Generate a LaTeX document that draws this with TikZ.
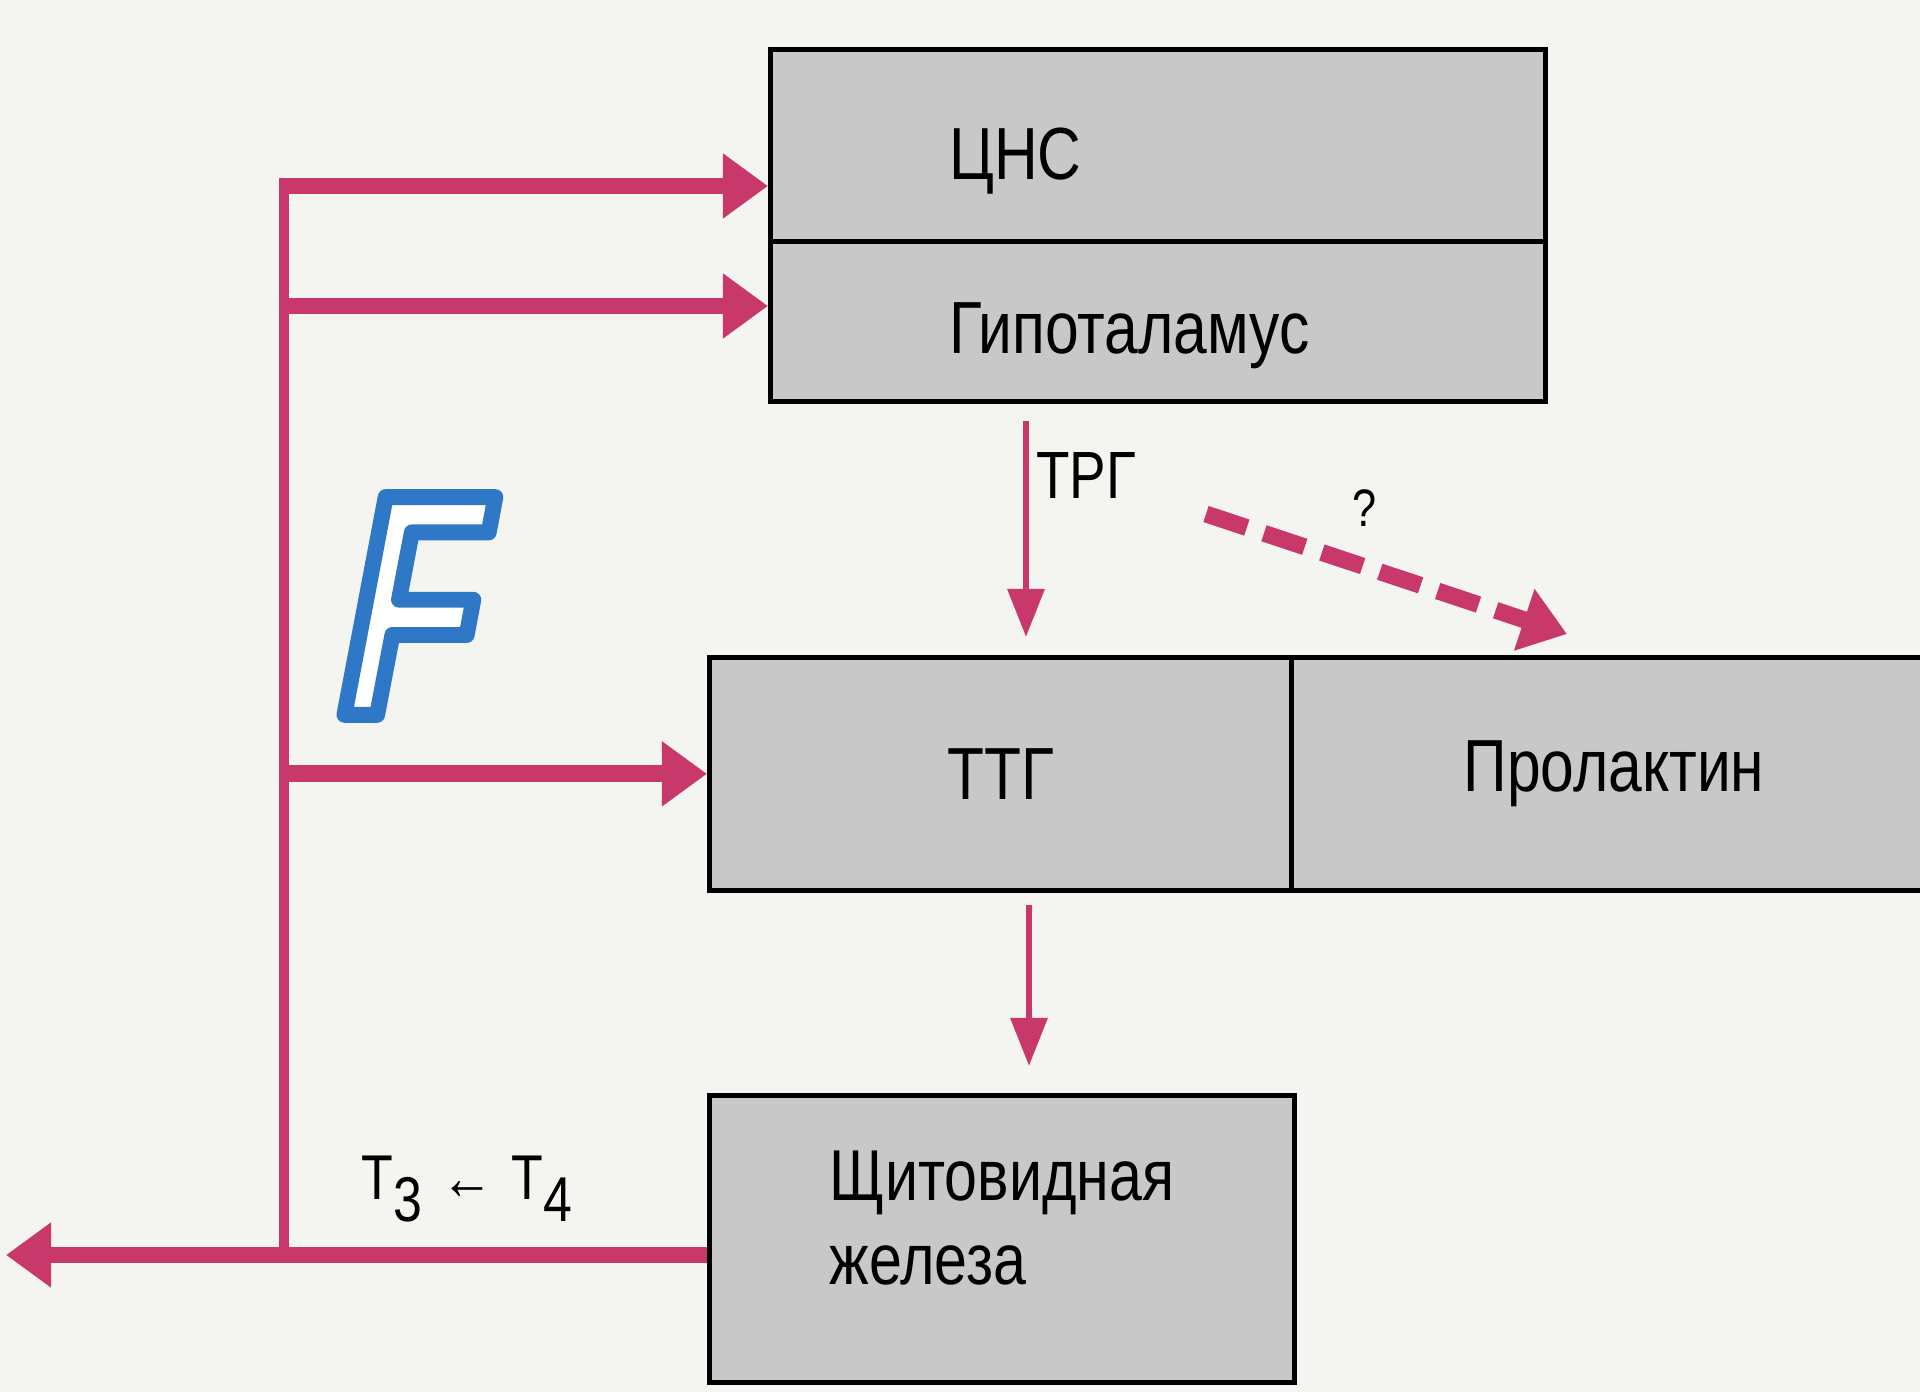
\documentclass[tikz,border=0pt]{standalone}
\usepackage{fontspec}
\setmainfont{Liberation Sans}[FakeStretch=0.82]
\newfontfamily\logofont{Liberation Sans}[FakeStretch=0.72, FakeSlant=0.05]
\usetikzlibrary{arrows.meta}

\definecolor{hormone}{HTML}{C8386A}
\definecolor{boxgray}{HTML}{C8C8C8}
\definecolor{paper}{HTML}{F4F4F1}
\definecolor{fblue}{HTML}{2F78C8}

% outlined letter: white fill, blue stroke
\newcommand{\outlined}[1]{{\color{white}\special{pdf:literal direct 0.184 0.471 0.784 RG 2 Tr 4.5 w 1 j}#1\special{pdf:literal direct 0 Tr}}}

\tikzset{
  organ/.style={draw=black, line width=1.3pt, fill=boxgray, inner sep=0pt,
    anchor=north west, font=\fontsize{21}{24}\selectfont},
  signal/.style={draw=hormone, line width=1.8pt,
    -{Triangle[length=0.48cm,width=0.36cm]}},
  feedback/.style={draw=hormone, line width=4.8pt,
    -{Triangle[length=0.45cm,width=0.62cm]}},
  maybe/.style={feedback, dash pattern=on 0.43cm off 0.18cm},
}

\begin{document}
\begin{tikzpicture}[x=0.01cm, y=-0.01cm]
	\useasboundingbox[fill=paper] (0,0) rectangle (1920,1392);
	% Draw the boxes
	\node[organ, minimum width=7.75cm, minimum height=1.92cm, text width=4.17cm,
	      inner xsep=1.79cm, align=left, text height=19.3pt, text depth=0pt] (cns) at (768,47) {ЦНС};
	\node[organ, minimum width=7.75cm, minimum height=1.60cm, text width=4.17cm,
	      inner xsep=1.79cm, align=left, text height=23pt, text depth=4.5pt] (hypo) at (768,239) {Гипоталамус};
	\node[organ, minimum width=5.82cm, minimum height=2.33cm] (ttg) at (707,655) {ТТГ};
	\node[organ, minimum width=6.45cm, minimum height=2.33cm] (prl) at (1289,655) {Пролактин};
	\node[organ, minimum width=5.85cm, minimum height=2.87cm, align=left, text depth=0.42cm,
	      font=\fontsize{20.5}{24}\selectfont] (thyroid) at (707,1093) {Щитовидная\\железа};
	% Labels
	\node[font=\fontsize{19}{21}\selectfont] (trg) at (1086,476) {ТРГ};
	\node[font=\fontsize{15}{18}\selectfont] (qmark) at (1365,508) {?};
	\node[font=\fontsize{18}{20}\selectfont] (t34) at (467,1189)
	     {T\raisebox{-0.36em}{3}\hspace{0.3em}←\hspace{0.3em}T\raisebox{-0.36em}{4}};
	\node[font=\fontsize{90}{90}\logofont\bfseries\itshape, inner sep=0pt] (flogo) at (410,606)
	     {\outlined{F}};
	% Feedback points
	\coordinate (out)   at (6,1255);
	\coordinate (junc)  at (284,1255);
	\coordinate (fbcns) at (279,186);
	\coordinate (fbhyp) at (279,306);
	\coordinate (trgx)  at (1026,0);
	\coordinate (ttgx)  at (1029,0);
	\coordinate (qs)    at (1206,514);
	\coordinate (qe)    at (1567,634);
	% Connect the boxes with arrows
	\draw[hormone, line width=2.8pt] (junc) -- (junc |- fbcns);
	\draw[feedback] (thyroid.west |- junc) -- (out);
	\draw[feedback] (fbcns) -- (fbcns -| cns.west);
	\draw[feedback] (fbhyp) -- (fbhyp -| hypo.west);
	\draw[feedback] (ttg.west -| fbcns) -- (ttg.west);
	\draw[signal, shorten <=0.17cm, shorten >=0.18cm] (hypo.south -| trgx) -- (ttg.north -| trgx);
	\draw[signal, shorten <=0.12cm, shorten >=0.27cm] (ttg.south -| ttgx) -- (thyroid.north -| ttgx);
	\draw[maybe] (qs) -- (qe);
\end{tikzpicture}
\end{document}
